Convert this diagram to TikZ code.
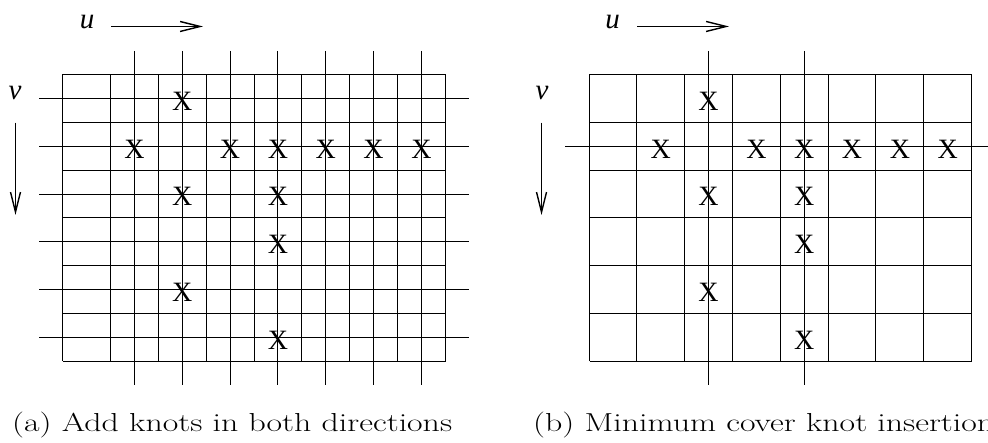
\documentclass[tikz,border=0pt]{standalone}
\usepackage{fontspec}
\newfontfamily\tms{Liberation Serif}
\usetikzlibrary{arrows.meta}
\begin{document}
\begin{tikzpicture}[x=1pt,y=-1pt,
  gridline/.style={line width=1.6pt},
  xmark/.style={font=\tms\fontsize{28}{28}\selectfont, inner sep=0pt, anchor=base},
  axislabel/.style={font=\tms\itshape\fontsize{29}{29}\selectfont, inner sep=0pt, anchor=base},
  dirarrow/.style={line width=1.4pt, -{Straight Barb[length=20pt,width=10pt]}},
  caption/.style={inner sep=0pt, anchor=base west, font=\fontsize{26}{26}\selectfont}]
\useasboundingbox (0,0) rectangle (988,443);
\def\cw{47.83}
\def\ch{47.72}
% ---------- left grid ----------
\foreach \k in {0,...,8} \draw[gridline] ({floor(62.7+\k*\cw)+0.5},74.5) -- ({floor(62.7+\k*\cw)+0.5},361.5);
\foreach \k in {1,...,7} \draw[gridline] ({floor(62.7+(\k+0.5)*\cw)+0.5},51) -- ({floor(62.7+(\k+0.5)*\cw)+0.5},385);
\foreach \j in {0,...,6} \draw[gridline] (62.5,{floor(74.7+\j*\ch)+0.5}) -- (445.5,{floor(74.7+\j*\ch)+0.5});
\foreach \j in {0,...,5} \draw[gridline] (39.3,{floor(74.7+(\j+0.5)*\ch)+0.5}) -- (469.3,{floor(74.7+(\j+0.5)*\ch)+0.5});
% ---------- right grid ----------
\foreach \k in {0,...,8} \draw[gridline] ({floor(589+\k*\cw)+0.5},74.5) -- ({floor(589+\k*\cw)+0.5},361.5);
\foreach \j in {0,...,6} \draw[gridline] (589.5,{floor(74.7+\j*\ch)+0.5}) -- (971.5,{floor(74.7+\j*\ch)+0.5});
\foreach \k in {2,4} \draw[gridline] ({floor(589+(\k+0.5)*\cw)+0.5},51) -- ({floor(589+(\k+0.5)*\cw)+0.5},385);
\draw[gridline] (565.3,{floor(74.7+1.5*\ch)+0.5}) -- (995.6,{floor(74.7+1.5*\ch)+0.5});
% ---------- knot marks ----------
\foreach \c/\r in {3/1, 2/2, 4/2, 5/2, 6/2, 7/2, 8/2, 3/3, 5/3, 5/4, 3/5, 5/6} {
  \node[xmark] (xa-\c-\r) at ({62.7+(\c-0.5)*\cw},{74.7+(\r-0.5)*\ch+12}) {X};
  \node[xmark] (xb-\c-\r) at ({589+(\c-0.5)*\cw},{74.7+(\r-0.5)*\ch+12}) {X};
}
% ---------- direction labels and arrows ----------
\node[axislabel] (ua) at (87,28.3) {u};
\node[axislabel] (va) at (15,99.3) {v};
\node[axislabel] (ub) at (612.7,28.3) {u};
\node[axislabel] (vb) at (542,99.3) {v};
\coordinate (ua0) at (111,26.5);
\coordinate (ua1) at (203,26.5);
\coordinate (va0) at (15.5,122.7);
\coordinate (va1) at (15.5,215);
\coordinate (ub0) at (637,26.5);
\coordinate (ub1) at (729,26.5);
\coordinate (vb0) at (541.5,122.7);
\coordinate (vb1) at (541.5,215);
\draw[dirarrow] (ua0) -- (ua1);
\draw[dirarrow] (va0) -- (va1);
\draw[dirarrow] (ub0) -- (ub1);
\draw[dirarrow] (vb0) -- (vb1);
% ---------- captions ----------
\node[caption] (capa) at (12,431.7) {\scalebox{1.30}[1]{(a) Add knots in both directions}};
\node[caption] (capb) at (533,431.7) {\scalebox{1.30}[1]{(b) Minimum cover knot insertion}};
\end{tikzpicture}
\end{document}
